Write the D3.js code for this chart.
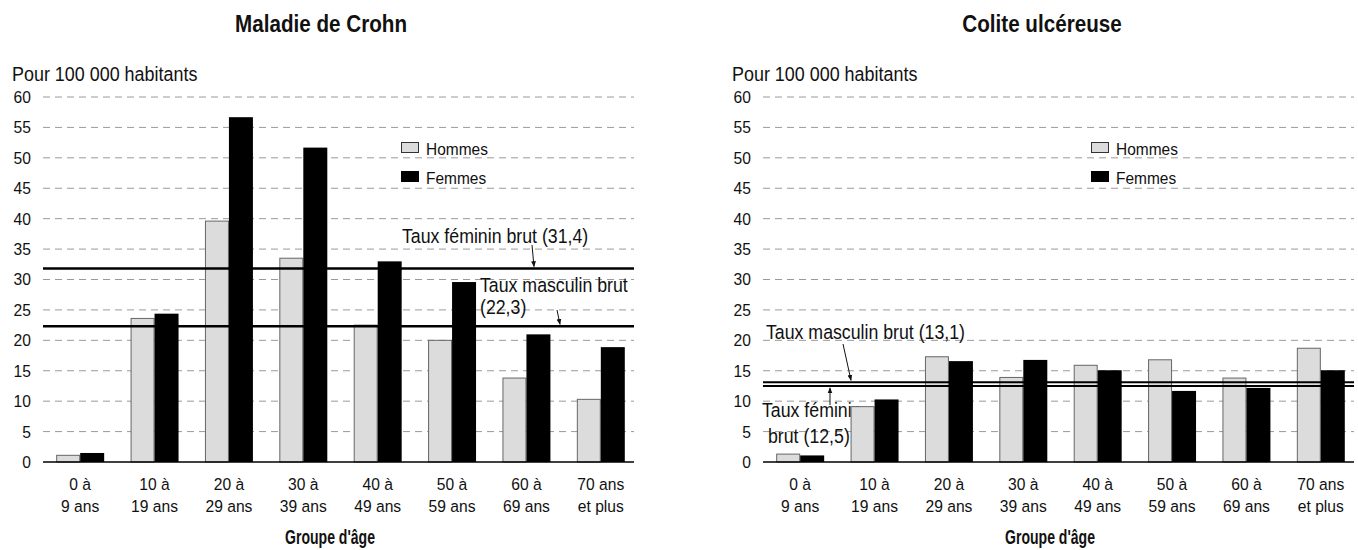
<!DOCTYPE html>
<html>
<head>
<meta charset="utf-8">
<script src="https://cdn.jsdelivr.net/npm/d3@7"></script>
<style>
  body { margin: 0; background: #fff; }
  svg { display: block; }
  text { font-family: "Liberation Sans", Arial, sans-serif; fill: #111; }
</style>
</head>
<body>
<svg id="chart" width="1358" height="550"></svg>
<script>
// ---------- DATA ----------
const categories = [
  ["0 à", "9 ans"], ["10 à", "19 ans"], ["20 à", "29 ans"], ["30 à", "39 ans"],
  ["40 à", "49 ans"], ["50 à", "59 ans"], ["60 à", "69 ans"], ["70 ans", "et plus"]
];
const seriesNames = ["Hommes", "Femmes"];
const yTicks = [0, 5, 10, 15, 20, 25, 30, 35, 40, 45, 50, 55, 60];

const crohnHommes = [1.1, 23.6, 39.6, 33.5, 22.5, 20.0, 13.8, 10.3];
const crohnFemmes = [1.4, 24.3, 56.6, 51.6, 32.9, 29.5, 20.9, 18.8];
const crohnTauxFeminin = 31.8;   // line as drawn (label: 31,4)
const crohnTauxMasculin = 22.3;

const coliteHommes = [1.3, 9.1, 17.3, 13.9, 15.9, 16.8, 13.8, 18.7];
const coliteFemmes = [1.0, 10.2, 16.5, 16.7, 15.0, 11.6, 12.1, 15.0];
const coliteTauxMasculin = 13.1;
const coliteTauxFeminin = 12.5;

const titles = ["Maladie de Crohn", "Colite ulcéreuse"];
const yLabel = "Pour 100 000 habitants";
const xLabel = "Groupe d'âge";

// ---------- DRAW ----------
const svg = d3.select("#chart");
const defs = svg.append("defs");
defs.append("marker").attr("id", "arr")
  .attr("viewBox", "0 0 10 10").attr("refX", 9).attr("refY", 5)
  .attr("markerWidth", 6).attr("markerHeight", 6).attr("orient", "auto")
  .append("path").attr("d", "M0,1 L10,5 L0,9 Z").attr("fill", "#111");

// condensed text helper
function ctext(g, x, y, str, size, sx, opts = {}) {
  return g.append("g").attr("transform", `translate(${x},${y}) scale(${sx},1)`)
    .append("text").attr("x", 0).attr("y", 0).attr("font-size", size)
    .attr("text-anchor", opts.anchor || "start")
    .attr("font-weight", opts.weight || "normal").text(str);
}

function drawPanel(cfg) {
  const g = svg.append("g");
  const y = d3.scaleLinear().domain([0, 60]).range([462, 97]);
  const x = d3.scaleBand().domain(d3.range(categories.length))
    .range([cfg.x0, cfg.x0 + 595]).paddingInner(0.355).paddingOuter(0.1775);
  const xs = d3.scaleBand().domain(seriesNames).range([0, x.bandwidth()]);
  const xEnd = cfg.x0 + 591;

  // title
  ctext(g, cfg.titleX, 32, cfg.title, 24, 0.86, { anchor: "middle", weight: "bold" });
  // y label
  ctext(g, cfg.x0 - 31, 81, yLabel, 19.5, 0.92);

  // grid
  g.append("g").selectAll("line").data(yTicks.filter(t => t > 0)).join("line")
    .attr("x1", cfg.x0).attr("x2", xEnd)
    .attr("y1", d => y(d)).attr("y2", d => y(d))
    .attr("stroke", "#9a9a9a").attr("stroke-width", 1).attr("stroke-dasharray", "7,5");

  // y axis tick labels via d3 axis
  const ya = g.append("g").attr("transform", `translate(${cfg.x0 - 12},0)`)
    .call(d3.axisLeft(y).tickValues(yTicks).tickSize(0).tickPadding(0));
  ya.select(".domain").remove();
  ya.selectAll("text").attr("font-size", 17).attr("fill", "#111")
    .attr("font-family", null).attr("x", 0)
    .attr("transform", "scale(0.92,1)");

  // annotation texts (under bars)
  cfg.annotations.forEach(a => {
    a.lines.forEach((t, i) => ctext(g, a.x[i], a.y[i], t, 19.5, 0.91));
  });

  // bars
  const groups = g.selectAll(".cat").data(categories.map((c, i) => i)).join("g")
    .attr("transform", i => `translate(${x(i)},0)`);
  groups.append("rect")
    .attr("x", xs("Hommes") + 0.5).attr("width", xs.bandwidth() - 1)
    .attr("y", i => y(cfg.hommes[i])).attr("height", i => y(0) - y(cfg.hommes[i]))
    .attr("fill", "#dcdcdc").attr("stroke", "#666").attr("stroke-width", 1);
  groups.append("rect")
    .attr("x", xs("Femmes")).attr("width", xs.bandwidth())
    .attr("y", i => y(cfg.femmes[i]) - 0.5).attr("height", i => y(0) - y(cfg.femmes[i]) + 0.5)
    .attr("fill", "#000");

  // reference lines
  cfg.refs.forEach(r => {
    g.append("line").attr("x1", cfg.x0).attr("x2", xEnd)
      .attr("y1", y(r.v)).attr("y2", y(r.v))
      .attr("stroke", "#000").attr("stroke-width", r.w);
  });

  // arrows
  cfg.arrows.forEach(a => {
    g.append("line").attr("x1", a.x1).attr("y1", a.y1)
      .attr("x2", a.x2).attr("y2", y(a.v) + a.dy)
      .attr("stroke", "#111").attr("stroke-width", 1).attr("marker-end", "url(#arr)");
  });

  // x axis line
  g.append("line").attr("x1", cfg.x0).attr("x2", xEnd).attr("y1", y(0)).attr("y2", y(0))
    .attr("stroke", "#000").attr("stroke-width", 1.5);

  // x category labels
  const xl = g.selectAll(".xl").data(categories).join("text")
    .attr("text-anchor", "middle").attr("font-size", 17)
    .attr("transform", (d, i) => `translate(${x(i) + x.bandwidth() / 2},0) scale(0.92,1)`);
  xl.append("tspan").attr("x", 0).attr("y", 490).text(d => d[0]);
  xl.append("tspan").attr("x", 0).attr("y", 512).text(d => d[1]);

  // x title
  ctext(g, cfg.xTitleX, 544, xLabel, 19.5, 0.72, { anchor: "middle", weight: "bold" });

  // legend
  const lg = g.append("g").attr("transform", `translate(${cfg.legendX},0)`);
  lg.append("rect").attr("x", 0.5).attr("y", 142.5).attr("width", 17).attr("height", 10)
    .attr("fill", "#dcdcdc").attr("stroke", "#333");
  ctext(lg, 25, 155, seriesNames[0], 17, 0.91);
  lg.append("rect").attr("x", 0).attr("y", 171).attr("width", 18).attr("height", 11).attr("fill", "#000");
  ctext(lg, 25, 183.5, seriesNames[1], 17, 0.91);
}

drawPanel({
  x0: 43, title: titles[0], titleX: 321, xTitleX: 330, legendX: 401,
  hommes: crohnHommes, femmes: crohnFemmes,
  refs: [{ v: crohnTauxFeminin, w: 2.5 }, { v: crohnTauxMasculin, w: 2.5 }],
  annotations: [
    { lines: ["Taux féminin brut (31,4)"], x: [402], y: [243] },
    { lines: ["Taux masculin brut", "(22,3)"], x: [480, 480], y: [292, 314] }
  ],
  arrows: [
    { x1: 532, y1: 245, x2: 534, v: crohnTauxFeminin, dy: -2 },
    { x1: 557, y1: 310, x2: 560, v: crohnTauxMasculin, dy: -2 }
  ]
});

drawPanel({
  x0: 763, title: titles[1], titleX: 1042, xTitleX: 1050, legendX: 1091,
  hommes: coliteHommes, femmes: coliteFemmes,
  refs: [{ v: coliteTauxMasculin, w: 2 }, { v: coliteTauxFeminin, w: 2 }],
  annotations: [
    { lines: ["Taux masculin brut (13,1)"], x: [766], y: [339] },
    { lines: ["Taux féminin", "brut (12,5)"], x: [762, 768], y: [417, 443] }
  ],
  arrows: [
    { x1: 843, y1: 344, x2: 851, v: coliteTauxMasculin, dy: -2 },
    { x1: 830, y1: 405, x2: 830, v: coliteTauxFeminin, dy: 2 }
  ]
});
</script>
</body>
</html>
